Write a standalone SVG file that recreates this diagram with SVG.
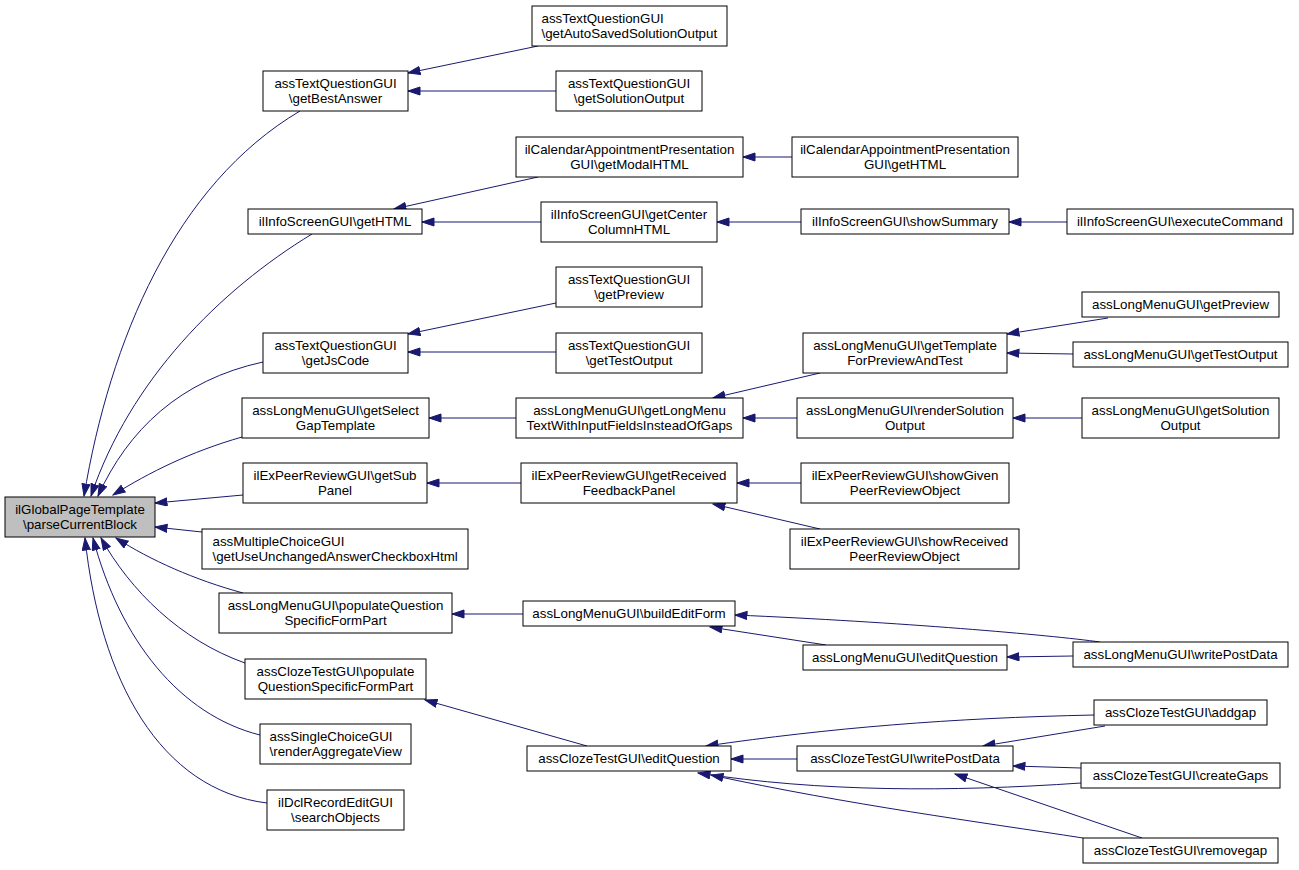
<svg xmlns="http://www.w3.org/2000/svg" width="1299" height="870" viewBox="0 0 1299 870">
<style>
.n rect{fill:#ffffff;stroke:#000000;stroke-width:1}
.root rect{fill:#bfbfbf;stroke:#000000;stroke-width:1}
text{font-family:"Liberation Sans",Arial,Helvetica,sans-serif;font-size:13.33px;fill:#000000}
.c{text-anchor:middle}
.s{text-anchor:start}
#edges path{fill:none;stroke:#191970;stroke-width:1;marker-end:url(#ah)}
</style>
<defs>
<marker id="ah" markerUnits="userSpaceOnUse" markerWidth="14" markerHeight="10" refX="12.5" refY="4.5" orient="auto">
<path d="M0.5,0.5 L12.5,4.5 L0.5,8.5 z" fill="#191970" stroke="#191970" stroke-width="1"/>
</marker>
</defs>
<rect x="0" y="0" width="1299" height="870" fill="#ffffff"/>
<g id="edges">
<path d="M300,111 C175,185 110,340 84,496"/>
<path d="M312,234 C220,290 130,380 91,496"/>
<path d="M263,362 C180,380 128,430 98,496"/>
<path d="M242,437 C190,452 150,472 113,495"/>
<path d="M243,495 L155,503"/>
<path d="M202,532 L155,527"/>
<path d="M243,593 C195,580 150,560 116,538"/>
<path d="M245,663 C180,640 130,590 101,538"/>
<path d="M260,735 C180,715 120,640 93,538"/>
<path d="M267,803 C160,790 100,680 85,538"/>
<path d="M538,46 L408,73"/>
<path d="M556,91 L408,91"/>
<path d="M538,177 L394,209"/>
<path d="M541,222 L422,222"/>
<path d="M556,303 L408,334"/>
<path d="M556,352 L408,352"/>
<path d="M516,418 L429,418"/>
<path d="M521,483 L427,483"/>
<path d="M523,614 L452,614"/>
<path d="M587,746 L425,700"/>
<path d="M792,157 L743,157"/>
<path d="M801,222 L717,222"/>
<path d="M820,373 L713,398"/>
<path d="M797,418 L743,418"/>
<path d="M801,483 L737,483"/>
<path d="M820,529 L713,504"/>
<path d="M826,645 L710,627"/>
<path d="M797,759 L731,759"/>
<path d="M1067,222 L1009,222"/>
<path d="M1108,318 L1007,334"/>
<path d="M1073,354 L1007,353"/>
<path d="M1082,418 L1013,418"/>
<path d="M1073,656 L1007,657"/>
<path d="M1100,642 C1050,635 900,622 735,615"/>
<path d="M1094,715 C950,718 830,728 706,746"/>
<path d="M1105,726 L983,746"/>
<path d="M1081,768 L1013,766"/>
<path d="M1081,783 C950,792 820,792 698,773"/>
<path d="M1083,838 C980,822 850,805 711,775"/>
<path d="M1142,838 L955,774"/>
</g>
<g id="root" class="root"><rect x="5" y="497" width="150" height="40"/><text class="c" x="80" y="513.5">ilGlobalPageTemplate</text><text class="c" x="80" y="528.5">\parseCurrentBlock</text></g>
<g id="n_bestAnswer" class="n"><rect x="263" y="71" width="145" height="40"/><text class="c" x="335.5" y="87.5">assTextQuestionGUI</text><text class="c" x="335.5" y="102.5">\getBestAnswer</text></g>
<g id="n_getHTML" class="n"><rect x="248" y="209" width="174" height="25"/><text class="c" x="335" y="225.5">ilInfoScreenGUI\getHTML</text></g>
<g id="n_jsCode" class="n"><rect x="263" y="333" width="145" height="40"/><text class="c" x="335.5" y="349.5">assTextQuestionGUI</text><text class="c" x="335.5" y="364.5">\getJsCode</text></g>
<g id="n_selectGap" class="n"><rect x="242" y="398" width="187" height="40"/><text class="c" x="335.5" y="414.5">assLongMenuGUI\getSelect</text><text class="c" x="335.5" y="429.5">GapTemplate</text></g>
<g id="n_subPanel" class="n"><rect x="243" y="463" width="184" height="40"/><text class="c" x="335" y="479.5">ilExPeerReviewGUI\getSub</text><text class="c" x="335" y="494.5">Panel</text></g>
<g id="n_multi" class="n"><rect x="202" y="529" width="266" height="40"/><text class="s" x="212.5" y="545.5">assMultipleChoiceGUI</text><text class="s" x="212.5" y="560.5">\getUseUnchangedAnswerCheckboxHtml</text></g>
<g id="n_lmPopulate" class="n"><rect x="219" y="593" width="233" height="40"/><text class="c" x="335.5" y="609.5">assLongMenuGUI\populateQuestion</text><text class="c" x="335.5" y="624.5">SpecificFormPart</text></g>
<g id="n_ctPopulate" class="n"><rect x="245" y="659" width="181" height="40"/><text class="c" x="335.5" y="675.5">assClozeTestGUI\populate</text><text class="c" x="335.5" y="690.5">QuestionSpecificFormPart</text></g>
<g id="n_singleChoice" class="n"><rect x="260" y="724" width="151" height="40"/><text class="s" x="269.5" y="740.5">assSingleChoiceGUI</text><text class="s" x="269.5" y="755.5">\renderAggregateView</text></g>
<g id="n_dcl" class="n"><rect x="267" y="790" width="137" height="40"/><text class="c" x="335.5" y="806.5">ilDclRecordEditGUI</text><text class="c" x="335.5" y="821.5">\searchObjects</text></g>
<g id="n_autoSaved" class="n"><rect x="532" y="6" width="195" height="40"/><text class="s" x="541.5" y="22.5">assTextQuestionGUI</text><text class="s" x="541.5" y="37.5">\getAutoSavedSolutionOutput</text></g>
<g id="n_solOut" class="n"><rect x="556" y="71" width="146" height="40"/><text class="c" x="629" y="87.5">assTextQuestionGUI</text><text class="c" x="629" y="102.5">\getSolutionOutput</text></g>
<g id="n_modal" class="n"><rect x="516" y="137" width="227" height="40"/><text class="c" x="629.5" y="153.5">ilCalendarAppointmentPresentation</text><text class="c" x="629.5" y="168.5">GUI\getModalHTML</text></g>
<g id="n_center" class="n"><rect x="541" y="202" width="176" height="40"/><text class="c" x="629" y="218.5">ilInfoScreenGUI\getCenter</text><text class="c" x="629" y="233.5">ColumnHTML</text></g>
<g id="n_tqPreview" class="n"><rect x="556" y="267" width="146" height="40"/><text class="c" x="629" y="283.5">assTextQuestionGUI</text><text class="c" x="629" y="298.5">\getPreview</text></g>
<g id="n_tqTest" class="n"><rect x="556" y="333" width="146" height="40"/><text class="c" x="629" y="349.5">assTextQuestionGUI</text><text class="c" x="629" y="364.5">\getTestOutput</text></g>
<g id="n_lmText" class="n"><rect x="516" y="398" width="227" height="40"/><text class="c" x="629.5" y="414.5">assLongMenuGUI\getLongMenu</text><text class="c" x="629.5" y="429.5">TextWithInputFieldsInsteadOfGaps</text></g>
<g id="n_feedback" class="n"><rect x="521" y="463" width="216" height="40"/><text class="c" x="629" y="479.5">ilExPeerReviewGUI\getReceived</text><text class="c" x="629" y="494.5">FeedbackPanel</text></g>
<g id="n_buildEdit" class="n"><rect x="523" y="601" width="212" height="25"/><text class="c" x="629" y="617.5">assLongMenuGUI\buildEditForm</text></g>
<g id="n_ctEdit" class="n"><rect x="527" y="746" width="204" height="25"/><text class="c" x="629" y="762.5">assClozeTestGUI\editQuestion</text></g>
<g id="n_calHTML" class="n"><rect x="792" y="137" width="226" height="40"/><text class="c" x="905" y="153.5">ilCalendarAppointmentPresentation</text><text class="c" x="905" y="168.5">GUI\getHTML</text></g>
<g id="n_showSummary" class="n"><rect x="801" y="209" width="208" height="25"/><text class="c" x="905" y="225.5">ilInfoScreenGUI\showSummary</text></g>
<g id="n_getTemplate" class="n"><rect x="803" y="333" width="204" height="40"/><text class="c" x="905" y="349.5">assLongMenuGUI\getTemplate</text><text class="c" x="905" y="364.5">ForPreviewAndTest</text></g>
<g id="n_renderSol" class="n"><rect x="797" y="398" width="216" height="40"/><text class="c" x="905" y="414.5">assLongMenuGUI\renderSolution</text><text class="c" x="905" y="429.5">Output</text></g>
<g id="n_showGiven" class="n"><rect x="801" y="463" width="208" height="40"/><text class="c" x="905" y="479.5">ilExPeerReviewGUI\showGiven</text><text class="c" x="905" y="494.5">PeerReviewObject</text></g>
<g id="n_showReceived" class="n"><rect x="790" y="529" width="229" height="40"/><text class="c" x="904.5" y="545.5">ilExPeerReviewGUI\showReceived</text><text class="c" x="904.5" y="560.5">PeerReviewObject</text></g>
<g id="n_lmEdit" class="n"><rect x="803" y="645" width="204" height="25"/><text class="c" x="905" y="661.5">assLongMenuGUI\editQuestion</text></g>
<g id="n_ctWrite" class="n"><rect x="797" y="746" width="216" height="25"/><text class="c" x="905" y="762.5">assClozeTestGUI\writePostData</text></g>
<g id="n_execCmd" class="n"><rect x="1067" y="209" width="226" height="25"/><text class="c" x="1180" y="225.5">ilInfoScreenGUI\executeCommand</text></g>
<g id="n_lmPreview" class="n"><rect x="1082" y="292" width="197" height="25"/><text class="c" x="1180.5" y="308.5">assLongMenuGUI\getPreview</text></g>
<g id="n_lmTest" class="n"><rect x="1073" y="342" width="215" height="25"/><text class="c" x="1180.5" y="358.5">assLongMenuGUI\getTestOutput</text></g>
<g id="n_lmSol" class="n"><rect x="1082" y="398" width="197" height="40"/><text class="c" x="1180.5" y="414.5">assLongMenuGUI\getSolution</text><text class="c" x="1180.5" y="429.5">Output</text></g>
<g id="n_lmWrite" class="n"><rect x="1073" y="642" width="215" height="25"/><text class="c" x="1180.5" y="658.5">assLongMenuGUI\writePostData</text></g>
<g id="n_addgap" class="n"><rect x="1094" y="700" width="173" height="25"/><text class="c" x="1180.5" y="716.5">assClozeTestGUI\addgap</text></g>
<g id="n_createGaps" class="n"><rect x="1081" y="763" width="199" height="25"/><text class="c" x="1180.5" y="779.5">assClozeTestGUI\createGaps</text></g>
<g id="n_removegap" class="n"><rect x="1083" y="838" width="195" height="25"/><text class="c" x="1180.5" y="854.5">assClozeTestGUI\removegap</text></g>
</svg>
